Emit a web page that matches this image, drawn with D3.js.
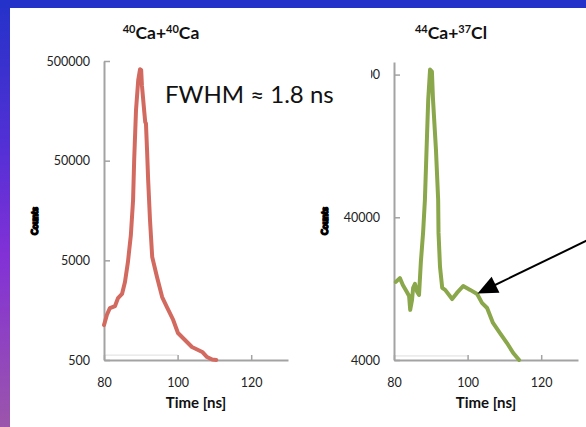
<!DOCTYPE html>
<html>
<head>
<meta charset="utf-8">
<script src="https://cdn.jsdelivr.net/npm/d3@7"></script>
<style>
  body { margin: 0; background: #fff; }
  svg { display: block; font-family: Lato, "Open Sans", sans-serif; }
</style>
</head>
<body>
<svg id="chart" width="586" height="427"></svg>
<script>
// Time-of-flight traces (time in ns, counts on a log scale)
const caCaTime   = [80.0, 80.8, 81.6, 83.0, 83.8, 84.9, 85.7, 86.5, 87.3, 87.9, 88.2, 88.7, 89.3, 89.8, 90.1, 90.3, 90.9, 91.2, 91.4, 91.7, 92.0, 92.5, 93.1, 94.4, 95.8, 97.1, 98.8, 100.1, 102.0, 103.9, 106.7, 108.0, 109.4, 110.5];
const caCaCounts = [1120, 1420, 1660, 1740, 2090, 2300, 3030, 4800, 8970, 20100, 50700, 161000, 321000, 414000, 405000, 286000, 161000, 122000, 118000, 63800, 31900, 12700, 5400, 3400, 2140, 1700, 1260, 933, 794, 675, 602, 535, 505, 500];

const caClTime   = [80.5, 81.6, 82.4, 83.5, 84.1, 84.4, 84.9, 85.2, 85.7, 86.3, 86.8, 87.3, 87.9, 88.4, 89.0, 89.3, 89.8, 90.3, 90.6, 91.4, 92.0, 92.1, 92.5, 93.1, 93.9, 95.8, 97.1, 98.8, 100.7, 102.6, 103.9, 105.3, 106.9, 108.8, 110.7, 112.4, 114.0];
const caClCounts = [14100, 15000, 13400, 12000, 11250, 8980, 10550, 12800, 13650, 12000, 11430, 19500, 31100, 53000, 157000, 267000, 434000, 420000, 267000, 119000, 53000, 31100, 18000, 12800, 12400, 10700, 11800, 13200, 12400, 11600, 10050, 9260, 7270, 6180, 5260, 4480, 4000];

// Faint reference segments near the floor of each panel
const caCaFloorTime = [80, 100];
const caCaFloor     = [560, 560];
const caClFloorTime = [80, 100];
const caClFloor     = [4270, 4270];

// Axis ticks
const timeTicks    = [80, 100, 120];
const caCaTicks    = [500, 5000, 50000, 500000];
const caClTicks    = [4000, 40000, 400000];

// Feature marked by the arrow on the Ca+Cl trace
const shoulderTime = 102.7;
const shoulderCount = 11700;

const svg = d3.select("#chart");

// Slide background: blue header band and a blue-to-purple left edge
const defs = svg.append("defs");
const edge = defs.append("linearGradient").attr("id", "edgeGrad")
  .attr("x1", 0).attr("y1", 0).attr("x2", 0).attr("y2", 1);
edge.append("stop").attr("offset", "0%").attr("stop-color", "#2432c9");
edge.append("stop").attr("offset", "35%").attr("stop-color", "#5430d6");
edge.append("stop").attr("offset", "60%").attr("stop-color", "#8231d6");
edge.append("stop").attr("offset", "100%").attr("stop-color", "#9c55ab");

svg.append("rect").attr("x", 0).attr("y", 0).attr("width", 586).attr("height", 427).attr("fill", "#fff");
svg.append("rect").attr("x", 0).attr("y", 0).attr("width", 10).attr("height", 427).attr("fill", "url(#edgeGrad)");
svg.append("rect").attr("x", 0).attr("y", 0).attr("width", 586).attr("height", 8).attr("fill", "#2432c9");

const axisColor = "#a3a3a3";

function panel(opts) {
  const x = d3.scaleLinear().domain([80, 130]).range([opts.x0, opts.x0 + 184]);
  const y = d3.scaleLog().domain(opts.yDomain).range([360, opts.yTop]);
  const g = svg.append("g");

  // faint floor segment
  g.append("path")
    .datum(opts.floorT.map((t, i) => [t, opts.floorV[i]]))
    .attr("fill", "none").attr("stroke", "#dedede").attr("stroke-width", 1)
    .attr("d", d3.line().x(d => x(d[0])).y(d => y(d[1])));

  // x axis (ticks point up into the plot)
  const xa = g.append("g").attr("transform", "translate(0,360)")
    .call(d3.axisBottom(x).tickValues(timeTicks).tickSizeInner(-5).tickSizeOuter(0).tickPadding(18).tickFormat(d3.format("d")));
  xa.select(".domain").attr("stroke", axisColor).attr("stroke-width", 2);
  xa.selectAll(".tick line").attr("stroke", axisColor).attr("stroke-width", 1.5);
  xa.selectAll(".tick text").attr("fill", "#222").attr("font-size", 12.5).attr("font-family", "Lato, sans-serif");

  // y axis (ticks point right into the plot)
  const ya = g.append("g").attr("transform", `translate(${opts.x0},0)`)
    .call(d3.axisLeft(y).tickValues(opts.ticks).tickSizeInner(-6).tickSizeOuter(0).tickPadding(14).tickFormat(d3.format("d")));
  ya.select(".domain").attr("stroke", axisColor).attr("stroke-width", 2);
  ya.selectAll(".tick line").attr("stroke", axisColor).attr("stroke-width", 1.5);
  ya.selectAll(".tick text").attr("fill", "#222").attr("font-size", 12.5).attr("font-family", "Lato, sans-serif");

  // trace
  g.append("path")
    .datum(opts.t.map((t, i) => [t, opts.v[i]]))
    .attr("fill", "none").attr("stroke", opts.color).attr("stroke-width", 4)
    .attr("stroke-linejoin", "round").attr("stroke-linecap", "round")
    .attr("d", d3.line().x(d => x(d[0])).y(d => y(d[1])));

  // title with isotope superscripts
  const title = g.append("text").attr("x", opts.x0 + 57).attr("y", 39)
    .attr("text-anchor", "middle").attr("font-weight", 700).attr("font-size", 17.5).attr("fill", "#111");
  opts.title.forEach(([mass, sym]) => {
    title.append("tspan").attr("font-size", 11).attr("dy", -6).text(mass);
    title.append("tspan").attr("dy", 6).text(sym);
  });

  // axis titles
  g.append("text").attr("x", opts.x0 + 92).attr("y", 408).attr("text-anchor", "middle")
    .attr("font-weight", 700).attr("font-size", 15).attr("fill", "#111").text("Time [ns]");
  g.append("text").attr("transform", `translate(${opts.x0 - 66},221) rotate(-90)`)
    .attr("text-anchor", "middle").attr("font-weight", 900).attr("font-size", 9)
    .attr("textLength", 28).attr("lengthAdjust", "spacingAndGlyphs")
    .attr("fill", "#000").attr("stroke", "#000").attr("stroke-width", 1.4).text("Counts");

  return { x, y };
}

const left = panel({
  x0: 104, yDomain: [500, 500000], yTop: 61, ticks: caCaTicks,
  t: caCaTime, v: caCaCounts, color: "#d26a60",
  floorT: caCaFloorTime, floorV: caCaFloor,
  title: [["40", "Ca+"], ["40", "Ca"]]
});

const right = panel({
  x0: 394, yDomain: [4000, 490000], yTop: 62, ticks: caClTicks,
  t: caClTime, v: caClCounts, color: "#8ba74b",
  floorT: caClFloorTime, floorV: caClFloor,
  title: [["44", "Ca+"], ["37", "Cl"]]
});

// FWHM annotation on a white box
svg.append("rect").attr("x", 158).attr("y", 60).attr("width", 213).attr("height", 60).attr("fill", "#fff");
svg.append("text").attr("x", 165).attr("y", 103).attr("font-size", 24).attr("fill", "#111")
  .text("FWHM \u2248 1.8 ns");

// Arrow pointing at the shoulder of the Ca+Cl trace
const tipX = right.x(shoulderTime), tipY = right.y(shoulderCount);
const ux = 0.9, uy = -0.436;
svg.append("line")
  .attr("x1", tipX + 16 * ux).attr("y1", tipY + 16 * uy)
  .attr("x2", tipX + 140 * ux).attr("y2", tipY + 140 * uy)
  .attr("stroke", "#000").attr("stroke-width", 2);
const bx = tipX + 20 * ux, by = tipY + 20 * uy;
svg.append("path")
  .attr("d", `M${tipX},${tipY}L${bx - uy * 9},${by + ux * 9}L${bx + uy * 9},${by - ux * 9}Z`)
  .attr("fill", "#000");
</script>
</body>
</html>
